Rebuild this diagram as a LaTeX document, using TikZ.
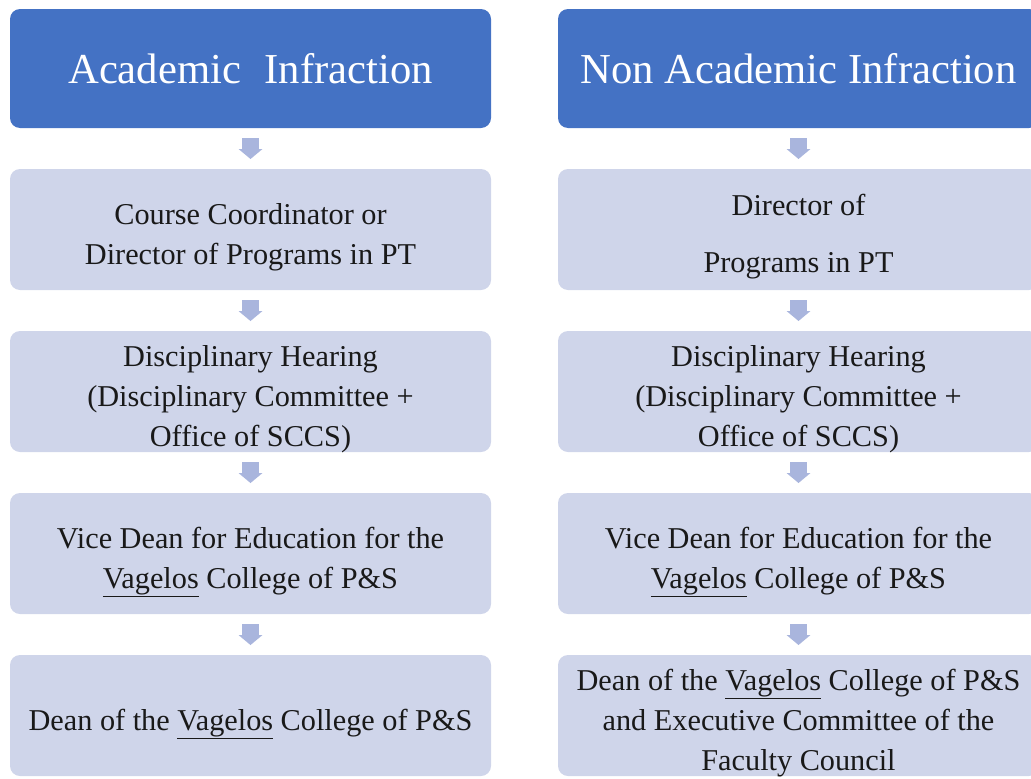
\documentclass[tikz,border=0pt]{standalone}
\usepackage{fontspec}
\setmainfont{Liberation Serif}
\usetikzlibrary{positioning,arrows.meta}

\definecolor{blutitolo}{HTML}{4472C4}
\definecolor{blucasella}{HTML}{CFD5EA}
\definecolor{blufreccia}{HTML}{A9B5DD}

\tikzset{
  testa/.style={rectangle, rounded corners=7.5pt, fill=blutitolo, text=white,
    minimum width=360.75pt, minimum height=89.25pt, outer sep=0pt,
    font=\fontsize{32}{38}\selectfont, align=center},
  passo/.style={rectangle, rounded corners=7.5pt, fill=blucasella, text=black!90,
    minimum width=360.75pt, minimum height=90.75pt, outer sep=0pt,
    font=\fontsize{22.7}{30}\selectfont, align=center, text depth=0pt},
  freccia/.style={draw=blufreccia, line width=12.75pt,
    -{Triangle[width=18pt 0 0, length=7.5pt 0 0, line width=0pt]},
    shorten <=7.5pt, shorten >=7.5pt}
}

\begin{document}
\begin{tikzpicture}[x=0.75pt,y=0.75pt]
  \clip (0,0) rectangle (1031,-778);

  % Colonna sinistra
  \node[testa] (a0) at (250.5,-68.5) {Academic\hspace{0.55em}Infraction};
  \node[passo, text height=52pt, below=30.75pt of a0] (a1) {Course Coordinator or\\Director of Programs in PT};
  \node[passo, text height=82pt, below=30.75pt of a1] (a2) {Disciplinary Hearing\\(Disciplinary Committee +\\Office of SCCS)};
  \node[passo, text height=52pt, below=30.75pt of a2] (a3) {Vice Dean for Education for the\\\underline{Vagelos} College of P\&S};
  \node[passo, text height=22pt, below=30.75pt of a3] (a4) {Dean of the \underline{Vagelos} College of P\&S};

  % Colonna destra
  \node[testa] (b0) at (798.5,-68.5) {Non Academic Infraction};
  \node[passo, text height=65pt, below=30.75pt of b0] (b1) {Director of\\[13pt]Programs in PT};
  \node[passo, text height=82pt, below=30.75pt of b1] (b2) {Disciplinary Hearing\\(Disciplinary Committee +\\Office of SCCS)};
  \node[passo, text height=52pt, below=30.75pt of b2] (b3) {Vice Dean for Education for the\\\underline{Vagelos} College of P\&S};
  \node[passo, text height=82pt, below=30.75pt of b3] (b4) {Dean of the \underline{Vagelos} College of P\&S\\and Executive Committee of the\\Faculty Council};

  % Frecce
  \foreach \c in {a,b} {
    \draw[freccia] (\c0) -- (\c1);
    \draw[freccia] (\c1) -- (\c2);
    \draw[freccia] (\c2) -- (\c3);
    \draw[freccia] (\c3) -- (\c4);
  }
\end{tikzpicture}
\end{document}
